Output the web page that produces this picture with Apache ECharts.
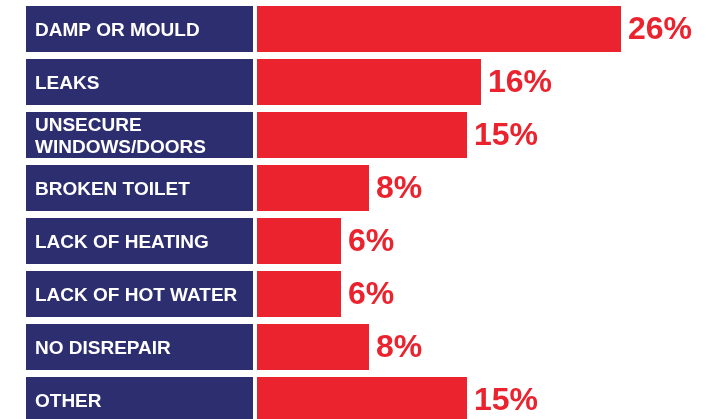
<!DOCTYPE html>
<html>
<head>
<meta charset="utf-8">
<script src="https://cdn.jsdelivr.net/npm/echarts@6/dist/echarts.min.js"></script>
<style>
html,body{margin:0;padding:0;background:#fff;overflow:hidden;}
#chart{width:715px;height:440px;}
</style>
</head>
<body>
<div id="chart"></div>
<script>
const categories = ['DAMP OR MOULD','LEAKS','UNSECURE\nWINDOWS/DOORS','BROKEN TOILET','LACK OF HEATING','LACK OF HOT WATER','NO DISREPAIR','OTHER'];
const values = [26,16,15,8,6,6,8,15];
const labelBoxes = [1,1,1,1,1,1,1,1];

const NAVY = '#2C2E6F';
const RED = '#EA232E';
const FONT = '"Liberation Sans", Arial, Helvetica, sans-serif';

const chart = echarts.init(document.getElementById('chart'), null, {renderer:'canvas'});
chart.setOption({
  animation:false,
  backgroundColor:'#ffffff',
  grid:[
    {left:26, width:227, top:2.5, height:424},
    {left:257, width:420, top:2.5, height:424}
  ],
  xAxis:[
    {gridIndex:0, type:'value', min:0, max:1, show:false},
    {gridIndex:1, type:'value', min:0, max:30, show:false}
  ],
  yAxis:[
    {gridIndex:0, type:'category', data:categories, inverse:true, show:false},
    {gridIndex:1, type:'category', data:categories, inverse:true, show:false}
  ],
  series:[
    {
      type:'bar', xAxisIndex:0, yAxisIndex:0, data:labelBoxes, barWidth:46,
      itemStyle:{color:NAVY},
      label:{show:true, position:'insideLeft', distance:9, offset:[0,1.5],
        formatter:(p)=>categories[p.dataIndex],
        color:'#ffffff', fontFamily:FONT, fontWeight:'bold', fontSize:19, lineHeight:22}
    },
    {
      type:'bar', xAxisIndex:1, yAxisIndex:1, data:values, barWidth:46,
      itemStyle:{color:RED},
      label:{show:true, position:'right', distance:7, offset:[0,1.5], formatter:'{c}%',
        color:RED, fontFamily:FONT, fontWeight:'bold', fontSize:32}
    }
  ]
});
</script>
</body>
</html>
